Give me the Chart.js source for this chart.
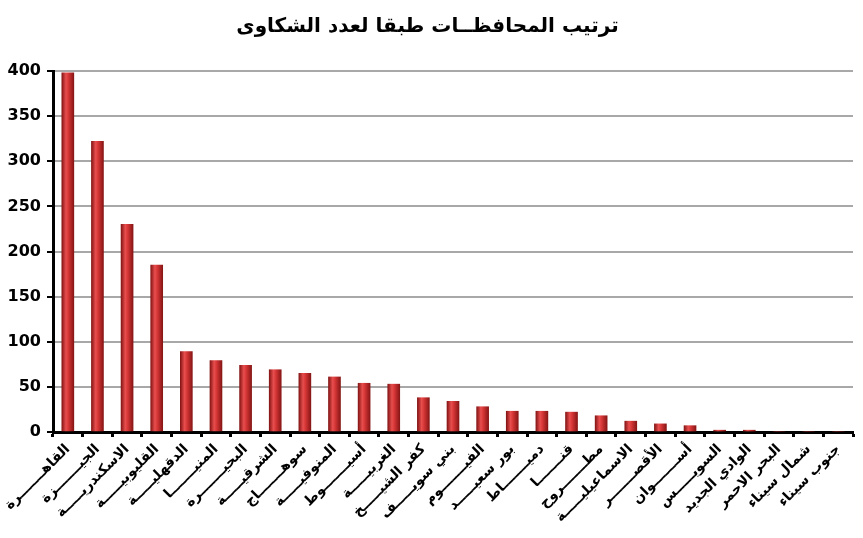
<!DOCTYPE html>
<html>
<head>
<meta charset="utf-8">
<script src="https://cdn.jsdelivr.net/npm/chart.js@4"></script>
<style>
  html, body { margin: 0; padding: 0; background: #fff; }
  #wrap { width: 863px; height: 538px; }
</style>
</head>
<body>
<div id="wrap"><canvas id="chart" width="863" height="538"></canvas></div>
<script>
const titleText = 'ترتيب المحافظــات طبقا لعدد الشكاوى';

// labels are stretched with tatweel like in the original (distributed text)
const governorates = [
    'القاهـــــــرة', 'الجيـــــــزة', 'الاسكندريـــــة', 'القليوبيـــــة', 'الدقهليـــــة', 'المنيـــــــا',
    'البحيـــــــرة', 'الشرقيـــــة', 'سوهـــــــاج', 'المنوفيـــــة', 'أسيـــــــوط', 'الغربيـــــة',
    'كفر الشيـــــخ', 'بني سويـــــف', 'الفيـــــــوم', 'بور سعيـــــد', 'دميـــــــاط', 'قنـــــــا',
    'مطـــــــروح', 'الاسماعيليـــــة', 'الأقصـــــــر', 'أســـــــوان', 'السويـــــس',
    'الوادي الجديد', 'البحر الاحمر', 'شمال سيناء', 'جنوب سيناء'
];

const complaints = [
    398, 322, 230, 185, 89, 79,
    74, 69, 65, 61, 54, 53,
    38, 34, 28, 23, 23, 22,
    18, 12, 9, 7, 2,
    2, 0, 0, 0
];

const yTicks = [0, 50, 100, 150, 200, 250, 300, 350, 400];

const BAR_W = 12;
const fontFamily = '"DejaVu Sans", "Liberation Sans", Arial, sans-serif';

// cylinder look: dark edges, light stripe left of centre
function barGradient(ctx) {
    const chart = ctx.chart;
    const xScale = chart.scales.x;
    if (!xScale || !chart.chartArea) return '#c0282a';
    const cx = xScale.getPixelForValue(ctx.dataIndex);
    const g = chart.ctx.createLinearGradient(cx - BAR_W / 2, 0, cx + BAR_W / 2, 0);
    g.addColorStop(0, '#861515');
    g.addColorStop(0.35, '#e84e4e');
    g.addColorStop(0.55, '#d63636');
    g.addColorStop(1, '#881616');
    return g;
}

const chart = new Chart(document.getElementById('chart').getContext('2d'), {
    type: 'bar',
    data: {
        labels: governorates,
        datasets: [{
            data: complaints,
            backgroundColor: barGradient,
            borderWidth: 0,
            barThickness: BAR_W
        }]
    },
    options: {
        responsive: false,
        animation: false,
        layout: { padding: { left: 2, right: 10, top: 0, bottom: 0 } },
        plugins: {
            legend: { display: false },
            tooltip: { enabled: false },
            title: {
                display: true,
                text: titleText,
                color: '#000',
                font: { family: fontFamily, size: 20, weight: 'bold' },
                padding: { top: 15, bottom: 32 }
            }
        },
        scales: {
            x: {
                grid: {
                    display: true,
                    offset: true,
                    drawOnChartArea: false,
                    color: '#000',
                    tickLength: 5,
                    tickWidth: 3
                },
                border: { display: true, color: '#000', width: 3 },
                ticks: {
                    autoSkip: false,
                    minRotation: 45,
                    maxRotation: 45,
                    color: '#000',
                    padding: 4,
                    font: { family: fontFamily, size: 14, weight: 'bold' }
                },
                afterFit: scale => { scale.height = 106; }
            },
            y: {
                min: 0,
                max: 400,
                afterBuildTicks: scale => {
                    scale.ticks = yTicks.map(v => ({ value: v }));
                },
                grid: {
                    color: '#a8a8a8',
                    lineWidth: 2,
                    tickColor: '#000',
                    tickLength: 6,
                    tickWidth: 2
                },
                border: { display: true, color: '#000', width: 3 },
                ticks: {
                    color: '#000',
                    padding: 6,
                    font: { family: fontFamily, size: 16, weight: 'bold' }
                },
                afterFit: scale => { scale.width = 51; }
            }
        }
    }
});
</script>
</body>
</html>
